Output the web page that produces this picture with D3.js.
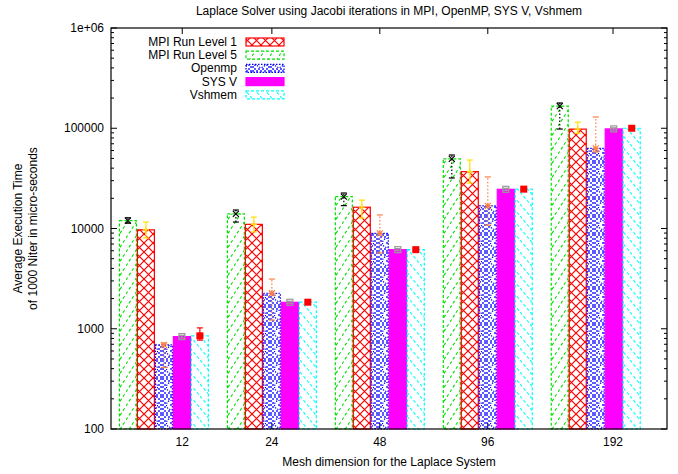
<!DOCTYPE html>
<html>
<head>
  <meta charset="UTF-8" />
  <title>Laplace Solver</title>
  <script src="https://d3js.org/d3.v7.min.js"></script>
  <style>
    html, body { margin: 0; padding: 0; background: #fff; }
    svg { display: block; }
    text { font-family: "Liberation Sans", Arial, sans-serif; font-size: 12px; fill: #000; }
  </style>
</head>
<body>
  <svg width="678" height="474"></svg>
  <script>
    // data
    const categories = ["12", "24", "48", "96", "192"];
    const seriesNames = ["MPI Run Level 1", "MPI Run Level 5", "Openmp", "SYS V", "Vshmem"];
    const level1 = [9700, 11000, 16300, 36900, 98000];
    const level5 = [12000, 14000, 20800, 49500, 166000];
    const openmp = [690, 2260, 8950, 16800, 63000];
    const sysv = [835, 1835, 6150, 24600, 98500];
    const vshmem = [850, 1840, 6150, 24700, 100000];
    // error bars [low, high]
    const level1Err = [[8040, 11600], [9230, 13000], [12700, 19200], [28400, 48200], [89000, 115000]];
    const level5Err = [[11300, 12800], [11600, 15300], [16900, 22600], [31900, 54100], [98200, 178700]];
    const openmpErr = [[410, 720], [1220, 3130], [5700, 13650], [10800, 32700], [58000, 129500]];
    const sysvErr = [[810, 860], [1790, 1880], [6000, 6300], [24000, 25200], [96000, 101000]];
    const vshmemErr = [[770, 1020], [1790, 1890], [6000, 6300], [24100, 25300], [97000, 103000]];
    // bars are drawn in this order inside each cluster
    const barOrder = ["MPI Run Level 5", "MPI Run Level 1", "Openmp", "SYS V", "Vshmem"];
    // where the category labels sit (in cluster units)
    const tickAt = [0.17, 1, 2, 3, 4.16];

    const series = [
      { name: "MPI Run Level 1", values: level1, err: level1Err, color: "red", fill: "url(#pRed)", dash: null, mark: "plus", markColor: "#ffe000", errDash: null },
      { name: "MPI Run Level 5", values: level5, err: level5Err, color: "#00e000", fill: "url(#pGreen)", dash: "3,2", mark: "cross", markColor: "#000", errDash: "1.5,2" },
      { name: "Openmp", values: openmp, err: openmpErr, color: "blue", fill: "url(#pBlue)", dash: "1.5,1.5", mark: "star", markColor: "#ff7f40", errDash: "1.5,2" },
      { name: "SYS V", values: sysv, err: sysvErr, color: "magenta", fill: "magenta", dash: null, mark: "box", markColor: "#999", errDash: null },
      { name: "Vshmem", values: vshmem, err: vshmemErr, color: "cyan", fill: "url(#pCyan)", dash: "3,2", mark: "fbox", markColor: "red", errDash: null }
    ];

    const L = 111, R = 667, T = 28, B = 429;
    const svg = d3.select("svg");

    const x = d3.scaleLinear().domain([-0.49, 4.66]).range([L, R]);
    const slot = d3.scaleBand().domain(barOrder).range([-5 / 12, 5 / 12]);
    const y = d3.scaleLog().domain([100, 1e6]).range([B, T]);

    // fill patterns
    const defs = svg.append("defs");
    const pr = defs.append("pattern").attr("id", "pRed").attr("patternUnits", "userSpaceOnUse")
      .attr("width", 9).attr("height", 9);
    pr.append("path").attr("d", "M0,0L9,9M9,0L0,9").attr("stroke", "red").attr("stroke-width", 1.2);

    const pg = defs.append("pattern").attr("id", "pGreen").attr("patternUnits", "userSpaceOnUse")
      .attr("width", 9).attr("height", 14);
    pg.append("path").attr("d", "M0,14L9,0").attr("stroke", "#00e000").attr("stroke-width", 1.1)
      .attr("stroke-dasharray", "3,2.5");

    const pc = defs.append("pattern").attr("id", "pCyan").attr("patternUnits", "userSpaceOnUse")
      .attr("width", 10).attr("height", 12);
    pc.append("path").attr("d", "M0,0L10,12").attr("stroke", "cyan").attr("stroke-width", 1.1)
      .attr("stroke-dasharray", "3,2.5");

    const pb = defs.append("pattern").attr("id", "pBlue").attr("patternUnits", "userSpaceOnUse")
      .attr("width", 18).attr("height", 18);
    for (let i = 0; i < 9; i++) {
      for (let j = 0; j < 9; j++) {
        const cx = i * 2 + 1, cy = j * 2 + 1;
        const dd = Math.hypot(cx - 9, cy - 9);
        if ((i + j) % 2 === 0 && (dd > 6.2 || dd < 1.5)) {
          pb.append("rect").attr("x", cx - 0.8).attr("y", cy - 0.8).attr("width", 1.6).attr("height", 1.6).attr("fill", "blue");
        }
      }
    }
    pb.append("circle").attr("cx", 9).attr("cy", 9).attr("r", 4.5).attr("fill", "none")
      .attr("stroke", "blue").attr("stroke-width", 1.1).attr("stroke-dasharray", "1.3,1.2");

    // ticks (behind bars)
    const tickG = svg.append("g");
    const major = [100, 1000, 10000, 100000, 1e6];
    const minor = [];
    for (let e = 100; e < 1e6; e *= 10) for (let k = 2; k <= 9; k++) minor.push(e * k);
    major.forEach(v => {
      tickG.append("line").attr("x1", L).attr("x2", L + 6).attr("y1", y(v)).attr("y2", y(v)).attr("stroke", "#000");
      tickG.append("line").attr("x1", R).attr("x2", R - 6).attr("y1", y(v)).attr("y2", y(v)).attr("stroke", "#000");
    });
    minor.forEach(v => {
      tickG.append("line").attr("x1", L).attr("x2", L + 3).attr("y1", y(v)).attr("y2", y(v)).attr("stroke", "#000");
      tickG.append("line").attr("x1", R).attr("x2", R - 3).attr("y1", y(v)).attr("y2", y(v)).attr("stroke", "#000");
    });
    tickAt.forEach(t => {
      tickG.append("line").attr("x1", x(t)).attr("x2", x(t)).attr("y1", T).attr("y2", T + 6).attr("stroke", "#000");
      tickG.append("line").attr("x1", x(t)).attr("x2", x(t)).attr("y1", B).attr("y2", B - 6).attr("stroke", "#000");
    });

    // bars
    const barW = x(1 / 6) - x(0);
    const barLayer = svg.append("g");
    barOrder.forEach(name => {
      const s = series.find(d => d.name === name);
      barLayer.selectAll(null)
        .data(s.values)
        .enter()
        .append("rect")
        .attr("x", (d, i) => x(i + slot(name)) + 0.5)
        .attr("y", d => y(d))
        .attr("width", barW - 1)
        .attr("height", d => B - y(d))
        .attr("fill", s.fill)
        .attr("stroke", s.color)
        .attr("stroke-width", 1.2)
        .attr("stroke-dasharray", s.dash);
    });

    // error bars + points
    const errLayer = svg.append("g");
    function marker(g, type, cx, cy, c) {
      const r = 3;
      if (type === "plus" || type === "star") {
        g.append("path").attr("d", `M${cx - r},${cy}H${cx + r}M${cx},${cy - r}V${cy + r}`).attr("stroke", c).attr("stroke-width", 1.2);
      }
      if (type === "cross" || type === "star") {
        g.append("path").attr("d", `M${cx - r},${cy - r}L${cx + r},${cy + r}M${cx - r},${cy + r}L${cx + r},${cy - r}`).attr("stroke", c).attr("stroke-width", 1.2);
      }
      if (type === "box") {
        g.append("rect").attr("x", cx - 3).attr("y", cy - 3).attr("width", 6).attr("height", 6).attr("fill", "none").attr("stroke", c).attr("stroke-width", 1.2);
      }
      if (type === "fbox") {
        g.append("rect").attr("x", cx - 3.5).attr("y", cy - 3.5).attr("width", 7).attr("height", 7).attr("fill", c);
      }
    }
    barOrder.forEach(name => {
      const s = series.find(d => d.name === name);
      s.values.forEach((v, i) => {
        const cx = x(i + slot(name)) + barW / 2;
        const [lo, hi] = s.err[i];
        errLayer.append("line").attr("x1", cx).attr("x2", cx).attr("y1", y(lo)).attr("y2", y(hi))
          .attr("stroke", s.markColor).attr("stroke-width", 1.2).attr("stroke-dasharray", s.errDash);
        [lo, hi].forEach(e => {
          errLayer.append("line").attr("x1", cx - 3).attr("x2", cx + 3).attr("y1", y(e)).attr("y2", y(e))
            .attr("stroke", s.markColor).attr("stroke-width", 1.2);
        });
        marker(errLayer, s.mark, cx, y(v), s.markColor);
      });
    });

    // border
    svg.append("rect").attr("x", L).attr("y", T).attr("width", R - L).attr("height", B - T)
      .attr("fill", "none").attr("stroke", "#000").attr("stroke-width", 1.2);

    // tick labels
    const yLabels = ["100", "1000", "10000", "100000", "1e+06"];
    svg.append("g").selectAll("text").data(major).enter().append("text")
      .attr("x", L - 7).attr("y", d => y(d) + 4).attr("text-anchor", "end")
      .text((d, i) => yLabels[i]);
    svg.append("g").selectAll("text").data(categories).enter().append("text")
      .attr("x", (d, i) => x(tickAt[i])).attr("y", B + 17).attr("text-anchor", "middle")
      .text(d => d);

    // titles
    svg.append("text").attr("x", (L + R) / 2).attr("y", 15).attr("text-anchor", "middle")
      .text("Laplace Solver using Jacobi iterations in MPI, OpenMP, SYS V, Vshmem");
    svg.append("text").attr("x", (L + R) / 2).attr("y", 466).attr("text-anchor", "middle")
      .text("Mesh dimension for the Laplace System");
    const yt = svg.append("text").attr("transform", `translate(22,${(T + B) / 2}) rotate(-90)`).attr("text-anchor", "middle");
    yt.append("tspan").attr("x", 0).attr("dy", 0).text("Average Execution Time");
    yt.append("tspan").attr("x", 0).attr("dy", 15).text("of 1000 Niter in micro-seconds");

    // legend
    const leg = svg.append("g");
    series.forEach((s, i) => {
      const ly = 42 + i * 13.2;
      leg.append("text").attr("x", 237).attr("y", ly + 4).attr("text-anchor", "end").text(s.name);
      leg.append("rect").attr("x", 246).attr("y", ly - 4).attr("width", 38).attr("height", 8)
        .attr("fill", s.fill).attr("stroke", s.color).attr("stroke-width", 1.2).attr("stroke-dasharray", s.dash);
    });
  </script>
</body>
</html>
